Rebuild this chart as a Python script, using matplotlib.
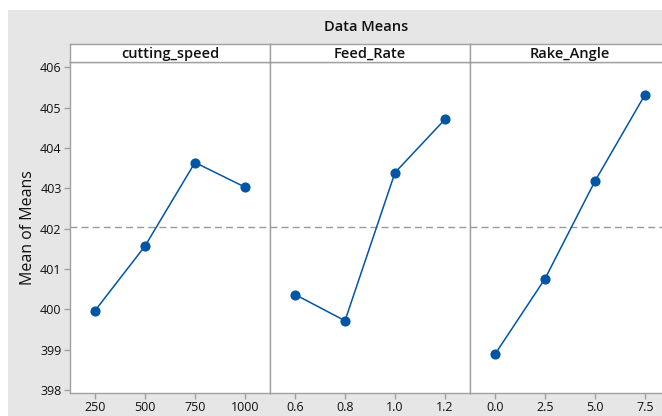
import matplotlib
matplotlib.use("Agg")
import matplotlib.pyplot as plt
from matplotlib.patches import Rectangle

plt.rcParams['font.family'] = ['Open Sans', 'DejaVu Sans']

# dados (Main effects - Data Means)
factors = ["cutting_speed", "Feed_Rate", "Rake_Angle"]
levels_speed = [250, 500, 750, 1000]
levels_feed = [0.6, 0.8, 1.0, 1.2]
levels_rake = [0.0, 2.5, 5.0, 7.5]
means_speed = [399.97, 401.57, 403.64, 403.03]
means_feed = [400.37, 399.72, 403.39, 404.71]
means_rake = [398.89, 400.76, 403.18, 405.32]
labels_speed = ["250", "500", "750", "1000"]
labels_feed = ["0.6", "0.8", "1.0", "1.2"]
labels_rake = ["0.0", "2.5", "5.0", "7.5"]
y_ticks = [398, 399, 400, 401, 402, 403, 404, 405, 406]

grand_mean = sum(means_speed) / len(means_speed)

W, H = 662, 416
fig = plt.figure(figsize=(W / 100, H / 100), dpi=100)
fig.patch.set_facecolor("white")

# fundo cinza
fig.patches.append(Rectangle((8 / W, 0), 1, (H - 10) / H, transform=fig.transFigure,
                             facecolor="#e6e6e6", edgecolor="none", zorder=-10))


def box(x0, y0, x1, y1):
    # converte pixels para coordenadas da figura
    return [x0 / W, 1 - y1 / H, (x1 - x0) / W, (y1 - y0) / H]


fig.text(366 / W, 1 - 27 / H, "Data Means", ha="center", va="center",
         fontsize=10.5, fontweight="semibold", color="#111111")

border = "#a0a0a0"
blue = "#0055a5"
xs = [(70, 270), (270, 470), (470, 670)]
data = [(levels_speed, means_speed, labels_speed),
        (levels_feed, means_feed, labels_feed),
        (levels_rake, means_rake, labels_rake)]

for i, (name, (x0, x1), (lv, mv, lb)) in enumerate(zip(factors, xs, data)):
    ax = fig.add_axes(box(x0, 62, x1, 393))
    ax.set_facecolor("white")
    ax.plot(lv, mv, color=blue, lw=1.1, marker="o", ms=6.3, zorder=3)
    ax.axhline(grand_mean, color="#999999", lw=1, ls=(0, (5, 3)), zorder=1)
    step = lv[1] - lv[0]
    ax.set_xlim(lv[0] - step / 2, lv[-1] + step / 2)
    ax.set_ylim(397.93, 406.13)
    ax.set_xticks(lv)
    ax.set_xticklabels(lb)
    ax.set_yticks(y_ticks)
    for s in ax.spines.values():
        s.set_color(border)
        s.set_linewidth(1)
    ax.tick_params(axis="both", color=border, length=4, width=1,
                   labelsize=9, labelcolor="#111111", pad=2)
    if i == 0:
        ax.set_ylabel("Mean of Means", fontsize=11.5, color="#111111", labelpad=3)
    else:
        ax.tick_params(axis="y", left=False, labelleft=False)

    # faixa com o nome do fator
    st = fig.add_axes(box(x0, 44, x1, 62))
    st.set_facecolor("white")
    st.set_xticks([])
    st.set_yticks([])
    for s in st.spines.values():
        s.set_color(border)
        s.set_linewidth(1)
    st.text(0.5, 0.45, name, ha="center", va="center", transform=st.transAxes,
            fontsize=10.5, fontweight="semibold", color="#111111")

fig.savefig("out.png", dpi=100)
